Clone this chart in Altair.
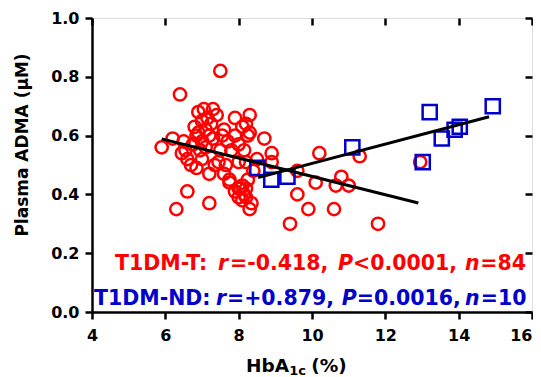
import altair as alt
import pandas as pd

# ---- data ----
red_x = [5.9, 6.2, 6.4, 7.5, 6.3, 6.6, 7.2, 6.45, 6.85, 7.2,
         9.4, 11.8, 9.9, 10.6, 9.6, 10.65, 11.0, 10.8, 10.1, 9.6, 10.2, 11.3, 12.95,
         8.9, 8.9, 8.7, 8.3, 7.9, 6.9, 7.3, 7.15, 6.9, 7.6,
         8.2, 8.3, 7.45, 7.75, 8.0, 8.2, 8.3, 8.35, 8.1, 8.25,
         7.55, 7.3, 7.35, 7.65, 8.0, 8.2, 7.75, 8.05,
         6.8, 7.0, 7.1, 7.2, 7.0, 6.75, 6.85, 7.25, 7.4, 7.05,
         6.95, 7.1, 6.6, 6.55, 6.7, 7.0, 7.5, 7.8, 8.0, 8.15,
         7.7, 7.9, 8.1, 8.15, 8.0, 8.2, 8.1, 7.9, 8.25, 7.6,
         8.4, 8.5, 6.5]
red_y = [0.56, 0.59, 0.74, 0.82, 0.35, 0.41, 0.37, 0.54, 0.49, 0.47,
         0.30, 0.30, 0.35, 0.35, 0.40, 0.43, 0.43, 0.46, 0.44, 0.48, 0.54, 0.53, 0.51,
         0.54, 0.51, 0.59, 0.67, 0.66, 0.68, 0.69, 0.66, 0.61, 0.62,
         0.64, 0.61, 0.51, 0.44, 0.42, 0.39, 0.35, 0.37, 0.63, 0.60,
         0.60, 0.59, 0.50, 0.50, 0.51, 0.51, 0.45, 0.42,
         0.63, 0.65, 0.62, 0.60, 0.58, 0.57, 0.60, 0.64, 0.67, 0.69,
         0.55, 0.56, 0.52, 0.55, 0.50, 0.52, 0.55, 0.55, 0.57, 0.55,
         0.58, 0.60, 0.43, 0.40, 0.39, 0.42, 0.38, 0.41, 0.45, 0.47,
         0.48, 0.52, 0.58]

blue_x = [8.51, 8.89, 9.33, 11.10, 13.02, 13.21, 13.54, 13.89, 14.03, 14.93]
blue_y = [0.49, 0.45, 0.46, 0.56, 0.51, 0.68, 0.59, 0.62, 0.63, 0.70]

fit_red_x = [5.9, 12.9]
fit_red_y = [0.589, 0.371]
fit_blue_x = [8.53, 14.83]
fit_blue_y = [0.457, 0.664]

x_ticks = [4, 6, 8, 10, 12, 14, 16]
y_ticks = [0.0, 0.2, 0.4, 0.6, 0.8, 1.0]

ann_red = ["T1DM-T:", "r", "=-0.418,", "P", "<0.0001,", "n", "=84"]
ann_blue = ["T1DM-ND:", "r", "=+0.879,", "P", "=0.0016,", "n", "=10"]

# ---- layout (pixels within plot area) ----
W, H = 440, 294
FONT = "DejaVu Sans"
RED = "#FF0000"
BLUE = "#0000CC"

red_pos = [23.0, 126.0, 138.0, 246.0, 261.0, 373.0, 388.2]
blue_pos = [2.0, 124.0, 135.0, 249.7, 264.7, 373.0, 388.7]

rows = []
for i, (t, p) in enumerate(zip(ann_red, red_pos)):
    rows.append({"t": t, "px": p, "py": 252.0, "c": RED, "it": i % 2 == 1})
for i, (t, p) in enumerate(zip(ann_blue, blue_pos)):
    rows.append({"t": t, "px": p, "py": 287.0, "c": BLUE, "it": i % 2 == 1})
ann = pd.DataFrame(rows)

red_df = pd.DataFrame({"x": red_x, "y": red_y})
blue_df = pd.DataFrame({"x": blue_x, "y": blue_y})
fr_df = pd.DataFrame({"x": fit_red_x, "y": fit_red_y})
fb_df = pd.DataFrame({"x": fit_blue_x, "y": fit_blue_y})

xs = alt.Scale(domain=[4, 16], nice=False, zero=False)
ys = alt.Scale(domain=[0, 1], nice=False, zero=False)

x_axis = alt.Axis(values=x_ticks, format="d", title=None, grid=False, orient="bottom",
                  labelFontSize=16, labelFont=FONT, labelFontWeight="bold", labelFlush=False,
                  labelAlign={"condition": {"test": "datum.value == 16", "value": "right"},
                              "value": "center"},
                  labelColor="black", domainColor="black", domainWidth=2.5,
                  tickColor="black", tickWidth=2.5, tickSize=7, labelPadding=8)
y_axis = alt.Axis(values=y_ticks, format=".1f", title=None, grid=False, orient="left",
                  labelFontSize=16, labelFont=FONT, labelFontWeight="bold", labelFlush=False,
                  labelColor="black", domainColor="black", domainWidth=2.5,
                  tickColor="black", tickWidth=2.5, tickSize=7, labelPadding=6)
x_top = alt.Axis(values=x_ticks, orient="top", labels=False, domain=False, title=None,
                 grid=False, tickColor="black", tickWidth=2.5, tickSize=7, offset=-7)
y_right = alt.Axis(values=y_ticks, orient="right", labels=False, domain=False, title=None,
                   grid=False, tickColor="black", tickWidth=2.5, tickSize=7, offset=-7)

circles = alt.Chart(red_df).mark_point(
    shape="circle", filled=False, size=150, strokeWidth=2.5, color=RED, opacity=1
).encode(x=alt.X("x:Q", scale=xs, axis=x_axis), y=alt.Y("y:Q", scale=ys, axis=y_axis))

squares = alt.Chart(blue_df).mark_point(
    shape="square", filled=False, size=200, strokeWidth=2.5, color=BLUE, opacity=1
).encode(x=alt.X("x:Q", scale=xs, axis=x_top), y=alt.Y("y:Q", scale=ys, axis=y_right))

line_r = alt.Chart(fr_df).mark_line(color="black", strokeWidth=3).encode(
    x=alt.X("x:Q", scale=xs, axis=None), y=alt.Y("y:Q", scale=ys, axis=None))
line_b = alt.Chart(fb_df).mark_line(color="black", strokeWidth=3).encode(
    x=alt.X("x:Q", scale=xs, axis=None), y=alt.Y("y:Q", scale=ys, axis=None))

txt_n = alt.Chart(ann).transform_filter("!datum.it").mark_text(
    font=FONT, fontWeight="bold", fontSize=20.5, align="left", baseline="alphabetic"
).encode(x=alt.X("px:Q", scale=None, axis=None), y=alt.Y("py:Q", scale=None, axis=None),
         text="t:N", color=alt.Color("c:N", scale=None))
txt_i = alt.Chart(ann).transform_filter("datum.it").mark_text(
    font=FONT, fontWeight="bold", fontStyle="italic", fontSize=20.5, align="left",
    baseline="alphabetic"
).encode(x=alt.X("px:Q", scale=None, axis=None), y=alt.Y("py:Q", scale=None, axis=None),
         text="t:N", color=alt.Color("c:N", scale=None))

title_df = pd.DataFrame({"t": ["HbA", "1c", "(%)"]})
xt_main = alt.Chart(title_df).transform_filter("datum.t != '1c'").transform_calculate(
    tx="datum.t == 'HbA' ? 154 : 219.2"
).mark_text(
    font=FONT, fontWeight="bold", fontSize=18.5, align="left", baseline="alphabetic",
    color="black"
).encode(x=alt.X("tx:Q", scale=None, axis=None), y=alt.value(353.5), text="t:N")
xt_sub = alt.Chart(title_df).transform_filter("datum.t == '1c'").mark_text(
    font=FONT, fontWeight="bold", fontSize=13, align="left", baseline="alphabetic",
    color="black"
).encode(x=alt.value(197.2), y=alt.value(357), text="t:N")

yt_df = pd.DataFrame({"t": ["Plasma ADMA (μM)"]})
yt = alt.Chart(yt_df).mark_text(
    font=FONT, fontWeight="bold", fontSize=17, align="center", baseline="middle",
    angle=270, color="black"
).encode(x=alt.value(-69), y=alt.value(127), text="t:N")

chart = alt.layer(circles, squares, line_r, line_b, txt_n, txt_i, xt_main, xt_sub, yt).resolve_axis(
    x="independent", y="independent"
).properties(
    width=W, height=H,
    autosize=alt.AutoSizeParams(type="none"),
    padding={"left": 84, "top": 10, "right": 1, "bottom": 66},
).configure_view(stroke="black", strokeWidth=2.5).configure(background="white")

chart.save("out.html", embed_options={"renderer": "svg", "actions": False})
